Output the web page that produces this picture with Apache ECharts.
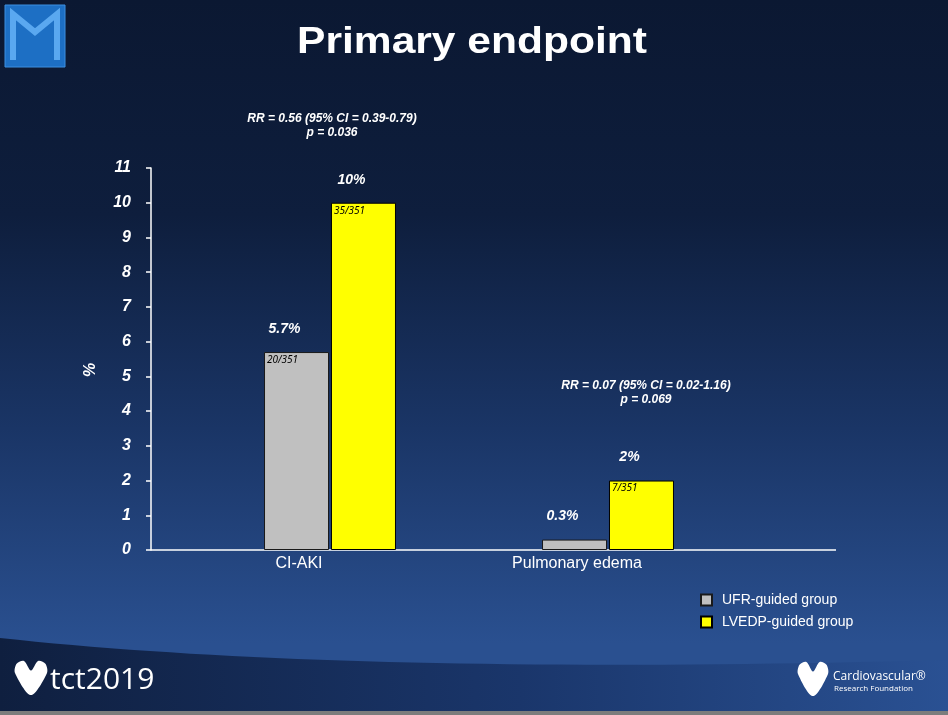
<!DOCTYPE html>
<html>
<head>
<meta charset="utf-8">
<title>Primary endpoint</title>
<script src="https://cdn.jsdelivr.net/npm/echarts@6/dist/echarts.min.js"></script>
<style>
  html, body { margin: 0; padding: 0; }
  body {
    width: 948px; height: 715px; overflow: hidden;
    background: linear-gradient(to bottom, #0b1832 0%, #0e1e3d 30%, #1a3566 60%, #2a5090 90%);
  }
  #chart { width: 948px; height: 715px; }
</style>
</head>
<body>
<div id="chart"></div>
<script>
// 数据
const categories = ['CI-AKI', 'Pulmonary edema'];
const seriesNames = ['UFR-guided group', 'LVEDP-guided group'];
const ufrValues = [5.7, 0.3];
const lvedpValues = [10, 2];
const ufrPctLabels = ['5.7%', '0.3%'];
const lvedpPctLabels = ['10%', '2%'];
const ufrCounts = ['20/351', ''];
const lvedpCounts = ['35/351', '7/351'];
const yTicks = { min: 0, max: 11, interval: 1 };
const rrNotes = [
  ['RR = 0.56 (95% CI = 0.39-0.79)', 'p = 0.036'],
  ['RR = 0.07 (95% CI = 0.02-1.16)', 'p = 0.069']
];

const FONT = '"Liberation Sans", Arial, sans-serif';
const chart = echarts.init(document.getElementById('chart'));

//百分比标签，放在柱子上方
function pctMarks(values, labels) {
  return {
    symbol: 'rect',
    symbolSize: 1,
    itemStyle: { color: 'rgba(0,0,0,0)' },
    label: {
      show: true,
      position: 'inside',
      offset: [-12, -23],
      color: '#fff',
      fontFamily: FONT,
      fontSize: 14,
      fontWeight: 'bold',
      fontStyle: 'italic',
      formatter: p => p.data.text
    },
    data: categories.map((c, i) => ({ coord: [c, values[i]], text: labels[i] }))
  };
}

function countLabel(counts) {
  return {
    show: true,
    position: 'insideTopLeft',
    distance: 3,
    color: '#000',
    fontFamily: '"Noto Sans", sans-serif',
    fontSize: 10,
    fontStyle: 'italic',
    formatter: p => counts[p.dataIndex]
  };
}

const optionData = {
  animation: false,
  legend: {
    orient: 'vertical',
    left: 695,
    top: 588,
    itemWidth: 11,
    itemHeight: 11,
    itemGap: 8,
    icon: 'rect',
    textStyle: { color: '#fff', fontFamily: FONT, fontSize: 14, padding: [0, 0, 0, 5] },
    data: seriesNames
  },
  grid: { left: 191, right: 201, top: 168, bottom: 165 },
  xAxis: {
    type: 'category',
    data: categories,
    axisLine: { show: false },
    axisTick: { show: false },
    axisLabel: {
      color: '#fff',
      fontFamily: FONT,
      fontSize: 16,
      margin: 6,
      padding: [0, 62, 0, 0]
    }
  },
  yAxis: {
    type: 'value',
    min: yTicks.min,
    max: yTicks.max,
    interval: yTicks.interval,
    offset: 40,
    name: '%',
    nameLocation: 'middle',
    nameGap: 52,
    nameTextStyle: {
      color: '#fff', fontFamily: FONT, fontSize: 16, fontWeight: 'bold', fontStyle: 'italic',
      padding: [0, 22, 0, 0]
    },
    axisLine: { show: true, lineStyle: { color: '#fff', width: 1.5 } },
    axisTick: { show: true, length: 5, lineStyle: { color: '#fff', width: 1.5 } },
    splitLine: { show: false },
    axisLabel: {
      color: '#fff',
      fontFamily: FONT,
      fontSize: 16,
      fontWeight: 'bold',
      fontStyle: 'italic',
      margin: 20,
      padding: [0, 0, 8, 0]
    }
  },
  series: [
    {
      name: seriesNames[0],
      type: 'bar',
      data: ufrValues,
      barWidth: 65,
      barGap: '3%',
      itemStyle: { color: '#c0c0c0', borderColor: '#1a1a1a', borderWidth: 1 },
      label: countLabel(ufrCounts),
      markPoint: pctMarks(ufrValues, ufrPctLabels)
    },
    {
      name: seriesNames[1],
      type: 'bar',
      data: lvedpValues,
      barWidth: 65,
      barGap: '3%',
      itemStyle: { color: '#ffff00', borderColor: '#000', borderWidth: 1 },
      label: countLabel(lvedpCounts),
      markPoint: pctMarks(lvedpValues, lvedpPctLabels)
    }
  ]
};
chart.setOption(optionData);

//坐标轴横线和页面装饰
const y0 = chart.convertToPixel({ yAxisIndex: 0 }, 0);
const noteStyle = { fill: '#fff', font: 'italic bold 12px ' + FONT, textAlign: 'center', textVerticalAlign: 'middle' };
function note(x, y, lines) {
  return lines.map((t, i) => ({ type: 'text', x: x, y: y + i * 14, style: Object.assign({ text: t }, noteStyle) }));
}

// 底部弧线（二次贝塞尔取点）
const footerPts = [];
for (let k = 0; k <= 40; k++) {
  const t = k / 40;
  const x = 2 * (1 - t) * t * 350 + t * t * 948;
  const y = (1 - t) * (1 - t) * 638 + 2 * (1 - t) * t * 676 + t * t * 660;
  footerPts.push([x, y]);
}
footerPts.push([948, 711], [0, 711]);

function heart(cx, top, w, h) {
  return [
    [cx, top + h * 0.28], [cx - w * 0.22, top], [cx - w * 0.45, top + h * 0.08],
    [cx - w * 0.5, top + h * 0.35], [cx, top + h], [cx + w * 0.5, top + h * 0.35],
    [cx + w * 0.45, top + h * 0.08], [cx + w * 0.22, top]
  ];
}

chart.setOption({
  graphic: [
    // footer
    {
      type: 'polygon', z: -10,
      shape: { points: footerPts },
      style: {
        fill: {
          type: 'linear', x: 0, y: 0, x2: 1, y2: 0,
          colorStops: [
            { offset: 0, color: '#0f1f3f' },
            { offset: 0.55, color: '#1a366b' },
            { offset: 1, color: '#2a5193' }
          ]
        }
      }
    },
    { type: 'rect', z: -10, shape: { x: 0, y: 711, width: 948, height: 4 }, style: { fill: '#7c7c7c' } },
    // 标题
    {
      type: 'text', x: 472, y: 43, scaleX: 1.15, originX: 0, originY: 0,
      style: { text: 'Primary endpoint', fill: '#fff', font: 'bold 37px ' + FONT, textAlign: 'center', textVerticalAlign: 'middle' }
    },
    // logo top-left
    { type: 'rect', shape: { x: 5, y: 5, width: 60, height: 62 }, style: { fill: '#1d6fc4', stroke: '#3d8fe0', lineWidth: 1 } },
    {
      type: 'polyline',
      shape: { points: [[13, 60], [13, 14], [35, 32], [57, 14], [57, 60]] },
      style: { stroke: '#5aa8f0', lineWidth: 6, fill: null }
    },
    // x 轴线
    { type: 'line', shape: { x1: 151, y1: y0, x2: 836, y2: y0 }, style: { stroke: '#fff', lineWidth: 1.5 } },
    // tct logo
    { type: 'polygon', shape: { points: heart(31, 661, 32, 34), smooth: 0.3 }, style: { fill: '#fff' } },
    { type: 'text', x: 50, y: 680, style: { text: 'tct2019', fill: '#fff', font: '30px "Open Sans", sans-serif', textVerticalAlign: 'middle' } },
    // CRF logo
    { type: 'polygon', shape: { points: heart(813, 662, 30, 34), smooth: 0.3 }, style: { fill: '#fff' } },
    { type: 'text', x: 833, y: 677, style: { text: 'Cardiovascular\u00ae', fill: '#fff', font: '12px "Open Sans", sans-serif', textVerticalAlign: 'middle' } },
    { type: 'text', x: 834, y: 689, style: { text: 'Research Foundation', fill: '#fff', font: '8px "Open Sans", sans-serif', textVerticalAlign: 'middle' } }
  ]
    .concat(note(332, 119, rrNotes[0]))
    .concat(note(646, 386, rrNotes[1]))
});
</script>
</body>
</html>
